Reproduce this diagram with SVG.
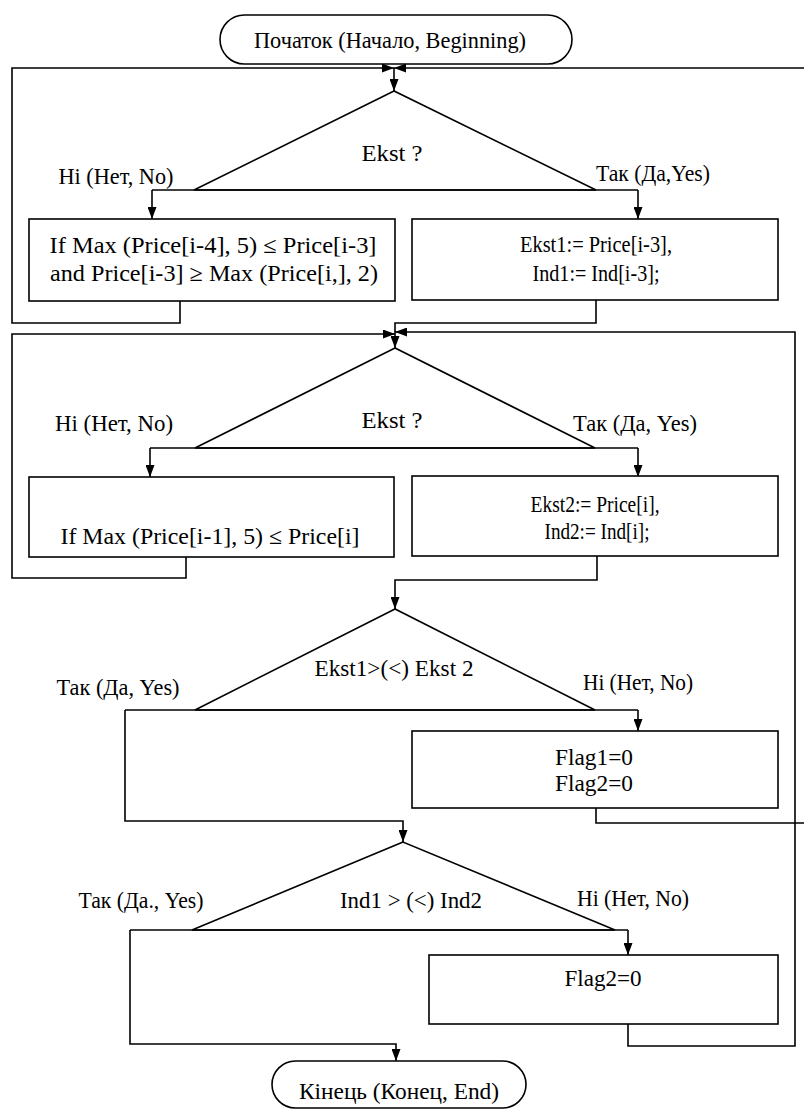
<svg xmlns="http://www.w3.org/2000/svg" width="804" height="1110" viewBox="0 0 804 1110">
<style>
.s{fill:none;stroke:#000;stroke-width:1.6}
.b{fill:#fff;stroke:#000;stroke-width:1.6}
.c{stroke:#000;stroke-width:1.6;fill:none}
text{font-size:23px;fill:#000;text-anchor:middle}
</style>
<defs>
<marker id="ah" markerUnits="userSpaceOnUse" markerWidth="12" markerHeight="9" refX="12" refY="4.5" orient="auto">
<path d="M0,0 L12,4.5 L0,9 z" fill="#000"/>
</marker>
</defs>
<rect width="804" height="1110" fill="#fff"/>
<g id="connectors">
<path class="c" d="M180,301 V323 H12 V68 H394" marker-end="url(#ah)"/>
<path class="c" d="M804,68 H394" marker-end="url(#ah)"/>
<path class="c" d="M394,68 V91" marker-end="url(#ah)"/>
<path class="c" d="M152,190 H638"/>
<path class="c" d="M152,190 V219" marker-end="url(#ah)"/>
<path class="c" d="M638,190 V219" marker-end="url(#ah)"/>
<path class="c" d="M596,300 V323 H395 V348" marker-end="url(#ah)"/>
<path class="c" d="M186,557 V578 H12 V334 H395" marker-end="url(#ah)"/>
<path class="c" d="M628,1024 V1046 H795 V332 H395" marker-end="url(#ah)"/>
<path class="c" d="M150,448 H638"/>
<path class="c" d="M150,448 V477" marker-end="url(#ah)"/>
<path class="c" d="M638,448 V477" marker-end="url(#ah)"/>
<path class="c" d="M597,556 V580 H395 V609" marker-end="url(#ah)"/>
<path class="c" d="M125,710 H638"/>
<path class="c" d="M638,710 V731" marker-end="url(#ah)"/>
<path class="c" d="M125,710 V821 H403 V842" marker-end="url(#ah)"/>
<path class="c" d="M596,808 V823 H804"/>
<path class="c" d="M130,930 H628"/>
<path class="c" d="M628,930 V955" marker-end="url(#ah)"/>
<path class="c" d="M130,930 V1044 H396 V1061" marker-end="url(#ah)"/>
</g>
<g font-family="Liberation Serif, Tinos, Times New Roman, DejaVu Serif, serif">
<g id="start">
<rect class="b" x="220" y="15" width="352" height="49" rx="24.5"/>
<text x="390" y="48" textLength="272" lengthAdjust="spacingAndGlyphs">Початок (Начало, Beginning)</text>
</g>
<g id="dec1">
<polygon class="s" points="394,91 194,190 596,190"/>
<text x="392" y="161" textLength="61" lengthAdjust="spacingAndGlyphs">Ekst ?</text>
<text x="116" y="184" textLength="115" lengthAdjust="spacingAndGlyphs">Hi (Нет, No)</text>
<text x="653" y="181" textLength="114" lengthAdjust="spacingAndGlyphs">Так (Да,Yes)</text>
</g>
<g id="box1">
<rect class="b" x="29" y="219" width="366" height="82"/>
<text x="213" y="253" textLength="327" lengthAdjust="spacingAndGlyphs">If Max (Price[i-4], 5) ≤ Price[i-3]</text>
<text x="214" y="281" textLength="328" lengthAdjust="spacingAndGlyphs">and Price[i-3] ≥ Max (Price[i,], 2)</text>
</g>
<g id="box2">
<rect class="b" x="412" y="219" width="366" height="81"/>
<text x="596" y="252" textLength="152" lengthAdjust="spacingAndGlyphs">Ekst1:= Price[i-3],</text>
<text x="596" y="281" textLength="127" lengthAdjust="spacingAndGlyphs">Ind1:= Ind[i-3];</text>
</g>
<g id="dec2">
<polygon class="s" points="395,348 195,448 595,448"/>
<text x="392" y="428" textLength="61" lengthAdjust="spacingAndGlyphs">Ekst ?</text>
<text x="114" y="431" textLength="118" lengthAdjust="spacingAndGlyphs">Hi (Нет, No)</text>
<text x="635" y="431" textLength="124" lengthAdjust="spacingAndGlyphs">Так (Да, Yes)</text>
</g>
<g id="box3">
<rect class="b" x="29" y="477" width="365" height="80"/>
<text x="210" y="544" textLength="299" lengthAdjust="spacingAndGlyphs">If Max (Price[i-1], 5) ≤ Price[i]</text>
</g>
<g id="box4">
<rect class="b" x="412" y="476" width="366" height="80"/>
<text x="595" y="512" textLength="129" lengthAdjust="spacingAndGlyphs">Ekst2:= Price[i],</text>
<text x="597" y="539" textLength="105" lengthAdjust="spacingAndGlyphs">Ind2:= Ind[i];</text>
</g>
<g id="dec3">
<polygon class="s" points="395,609 195,710 595,710"/>
<text x="394" y="676" textLength="159" lengthAdjust="spacingAndGlyphs">Ekst1&gt;(&lt;) Ekst 2</text>
<text x="118" y="695" textLength="123" lengthAdjust="spacingAndGlyphs">Так (Да, Yes)</text>
<text x="638" y="690" textLength="110" lengthAdjust="spacingAndGlyphs">Hi (Нет, No)</text>
</g>
<g id="box5">
<rect class="b" x="412" y="731" width="366" height="77"/>
<text x="594" y="765" textLength="78" lengthAdjust="spacingAndGlyphs">Flag1=0</text>
<text x="594" y="791" textLength="78" lengthAdjust="spacingAndGlyphs">Flag2=0</text>
</g>
<g id="dec4">
<polygon class="s" points="403,842 192,930 615,930"/>
<text x="411" y="908" textLength="142" lengthAdjust="spacingAndGlyphs">Ind1 &gt; (&lt;) Ind2</text>
<text x="141" y="908" textLength="125" lengthAdjust="spacingAndGlyphs">Так (Да., Yes)</text>
<text x="633" y="906" textLength="112" lengthAdjust="spacingAndGlyphs">Hi (Нет, No)</text>
</g>
<g id="box6">
<rect class="b" x="429" y="955" width="349" height="69"/>
<text x="603" y="986" textLength="77" lengthAdjust="spacingAndGlyphs">Flag2=0</text>
</g>
<g id="end">
<rect class="b" x="272" y="1061" width="254" height="47" rx="23.5"/>
<text x="399" y="1099" textLength="200" lengthAdjust="spacingAndGlyphs">Кінець (Конец, End)</text>
</g>
</g>
</svg>
